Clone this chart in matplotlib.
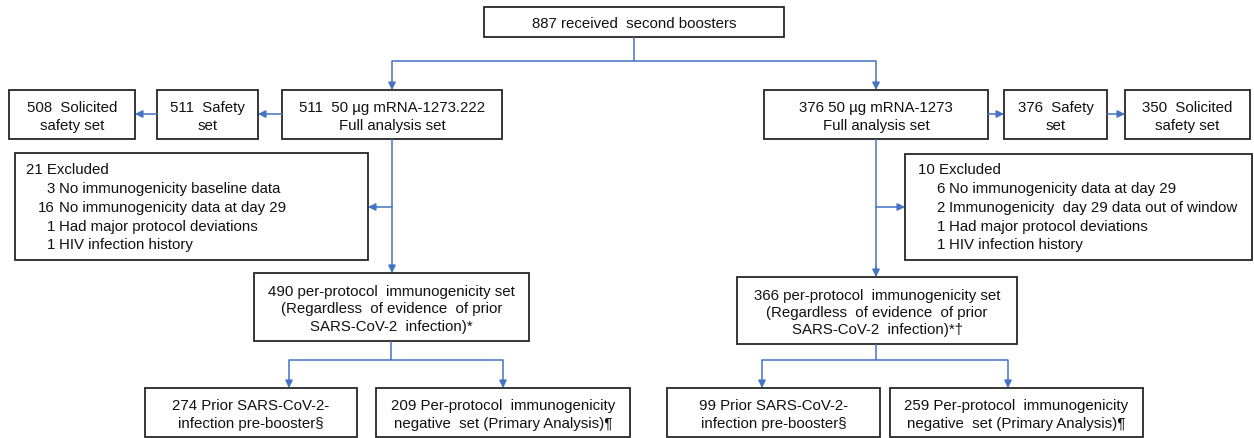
import matplotlib
matplotlib.use("Agg")
import matplotlib.pyplot as plt
from matplotlib.patches import Rectangle

# ---------------- data ----------------
total_label = "887 received  second boosters"
arm_labels = ["511  50 µg mRNA-1273.222\nFull analysis set",
              "376 50 µg mRNA-1273\nFull analysis set"]
safety_labels = ["511  Safety\nset", "376  Safety\nset"]
solicited_labels = ["508  Solicited\nsafety set", "350  Solicited\nsafety set"]
excluded_titles = ["21 Excluded", "10 Excluded"]
excluded_left_n = ["3", "16", "1", "1"]
excluded_left_txt = ["No immunogenicity baseline data", "No immunogenicity data at day 29",
                     "Had major protocol deviations", "HIV infection history"]
excluded_right_n = ["6", "2", "1", "1"]
excluded_right_txt = ["No immunogenicity data at day 29", "Immunogenicity  day 29 data out of window",
                      "Had major protocol deviations", "HIV infection history"]
pp_labels = ["490 per-protocol  immunogenicity set\n(Regardless  of evidence  of prior\nSARS-CoV-2  infection)*",
             "366 per-protocol  immunogenicity set\n(Regardless  of evidence  of prior\nSARS-CoV-2  infection)*†"]
prior_labels = ["274 Prior SARS-CoV-2-\ninfection pre-booster§", "99 Prior SARS-CoV-2-\ninfection pre-booster§"]
neg_labels = ["209 Per-protocol  immunogenicity\nnegative  set (Primary Analysis)¶",
              "259 Per-protocol  immunogenicity\nnegative  set (Primary Analysis)¶"]

# ---------------- style ----------------
plt.rcParams['font.family'] = ['Liberation Sans', 'DejaVu Sans']
FS = 10.8
BLUE = "#4472C4"
EDGE = "#262626"
TXT = "#111111"

fig = plt.figure(figsize=(12.54, 4.39), dpi=100)
ax = fig.add_axes([0, 0, 1, 1])
ax.set_xlim(0, 1254)
ax.set_ylim(439, 0)
ax.axis("off")


def box(x0, y0, x1, y1, text=None, ls=1.42):
    ax.add_patch(Rectangle((x0, y0), x1 - x0, y1 - y0, fill=False, ec=EDGE, lw=1.3))
    if text is not None:
        ax.text((x0 + x1) / 2, (y0 + y1) / 2 + 1.5, text, ha="center", va="center",
                fontsize=FS, linespacing=ls, color=TXT)


def line(xs, ys):
    ax.plot(xs, ys, color=BLUE, lw=1.1, solid_capstyle="butt")


def arrow(x0, y0, x1, y1):
    ax.annotate("", xy=(x1, y1), xytext=(x0, y0),
                arrowprops=dict(arrowstyle="-|>", color=BLUE, lw=1.1,
                                mutation_scale=11, shrinkA=0, shrinkB=0))


# top
box(484, 8, 784, 38, total_label)
line([634, 634], [38, 62])
line([392, 876], [62, 62])
arrow(392, 62, 392, 91)
arrow(876, 62, 876, 91)

# left arm
box(282, 91, 502, 140, arm_labels[0])
box(157, 91, 258, 140, safety_labels[0])
box(9, 91, 135, 140, solicited_labels[0])
arrow(282, 115, 258, 115)
arrow(157, 115, 135, 115)

# right arm
box(764, 91, 988, 140, arm_labels[1])
box(1004, 91, 1107, 140, safety_labels[1])
box(1125, 91, 1250, 140, solicited_labels[1])
arrow(988, 115, 1004, 115)
arrow(1107, 115, 1125, 115)

# excluded boxes
box(15, 154, 368, 261)
box(905, 155, 1252, 261)
line([392, 392], [140, 268])
arrow(392, 208, 368, 208)
arrow(392, 266, 392, 274)
line([876, 876], [140, 270])
arrow(876, 208, 905, 208)
arrow(876, 268, 876, 278)

rows = [170, 189, 208, 227, 245]
ax.text(26, rows[0], excluded_titles[0], ha="left", va="center", fontsize=FS, color=TXT)
for i, (n, t) in enumerate(zip(excluded_left_n, excluded_left_txt)):
    ax.text(55, rows[i + 1], n, ha="right", va="center", fontsize=FS, color=TXT)
    ax.text(59, rows[i + 1], t, ha="left", va="center", fontsize=FS, color=TXT)
ax.text(918, rows[0], excluded_titles[1], ha="left", va="center", fontsize=FS, color=TXT)
for i, (n, t) in enumerate(zip(excluded_right_n, excluded_right_txt)):
    ax.text(945, rows[i + 1], n, ha="right", va="center", fontsize=FS, color=TXT)
    ax.text(949, rows[i + 1], t, ha="left", va="center", fontsize=FS, color=TXT)

# per-protocol boxes
box(254, 274, 529, 342, pp_labels[0], ls=1.31)
box(737, 278, 1017, 345, pp_labels[1], ls=1.31)

# splits
line([391, 391], [342, 361])
line([289, 503], [361, 361])
arrow(289, 361, 289, 389)
arrow(503, 361, 503, 389)
line([876, 876], [345, 361])
line([762, 1008], [361, 361])
arrow(762, 361, 762, 389)
arrow(1008, 361, 1008, 389)

# bottom
box(145, 389, 357, 438, prior_labels[0])
box(376, 389, 630, 438, neg_labels[0])
box(667, 389, 880, 438, prior_labels[1])
box(890, 389, 1143, 438, neg_labels[1])

fig.savefig("out.png", dpi=100)
